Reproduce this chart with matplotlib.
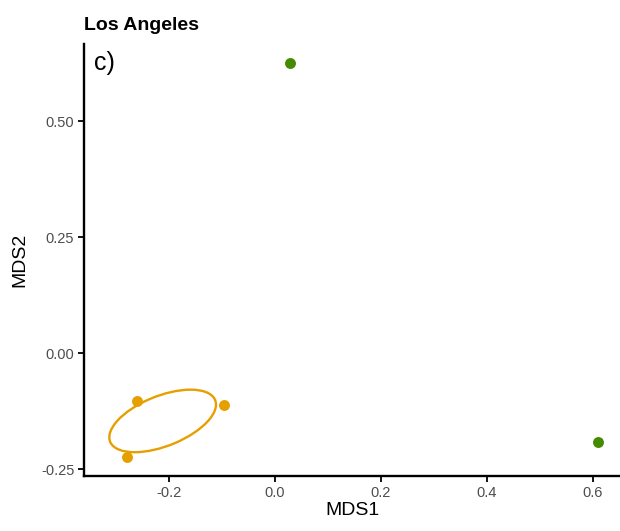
import numpy as np
import matplotlib
matplotlib.use("Agg")
import matplotlib.pyplot as plt
from matplotlib.patches import Ellipse

plt.rcParams['font.family'] = ['Liberation Sans', 'DejaVu Sans']

# Data
orange_x = [-0.260, -0.096, -0.279]
orange_y = [-0.103, -0.112, -0.224]
green_x = [0.028, 0.609]
green_y = [0.625, -0.192]
orange_col = "#E69F00"
green_col = "#458B00"

xticks = [-0.2, 0.0, 0.2, 0.4, 0.6]
xticklabels = ["-0.2", "0.0", "0.2", "0.4", "0.6"]
yticks = [-0.25, 0.0, 0.25, 0.50]
yticklabels = ["-0.25", "0.00", "0.25", "0.50"]

fig = plt.figure(figsize=(6.2, 5.31), dpi=100)
ax = fig.add_axes([0.1355, 0.1036, 0.8645, 0.8134])

ax.scatter(orange_x, orange_y, s=62, color=orange_col, zorder=3, linewidths=0)
ax.scatter(green_x, green_y, s=62, color=green_col, zorder=3, linewidths=0)

# standard-deviation ellipse of the orange group
pts = np.column_stack([orange_x, orange_y])
c = pts.mean(axis=0)
cov = np.cov(pts, rowvar=False)
vals, vecs = np.linalg.eigh(cov)
order = vals.argsort()[::-1]
vals, vecs = vals[order], vecs[:, order]
angle = np.degrees(np.arctan2(vecs[1, 0], vecs[0, 0]))
ell = Ellipse(xy=c, width=2 * np.sqrt(vals[0]), height=2 * np.sqrt(vals[1]),
              angle=angle, fill=False, edgecolor=orange_col, linewidth=1.7, zorder=2)
ax.add_patch(ell)

ax.set_xlim(-0.360, 0.651)
ax.set_ylim(-0.265, 0.666)
ax.set_xticks(xticks)
ax.set_xticklabels(xticklabels)
ax.set_yticks(yticks)
ax.set_yticklabels(yticklabels)

for s in ["top", "right"]:
    ax.spines[s].set_visible(False)
for s in ["left", "bottom"]:
    ax.spines[s].set_linewidth(1.7)
    ax.spines[s].set_color("black")
ax.tick_params(axis="both", length=4, width=1.3, color="black",
               labelsize=10.5, labelcolor="#4D4D4D", pad=3)

ax.set_xlabel("MDS1", fontsize=14, labelpad=2)
ax.set_ylabel("MDS2", fontsize=14, labelpad=9)
ax.set_title("Los Angeles", fontsize=14, fontweight="bold", loc="left", pad=10)
ax.text(0.018, 0.985, "c)", transform=ax.transAxes, fontsize=18, va="top", ha="left")

fig.savefig("out.png", dpi=100)
